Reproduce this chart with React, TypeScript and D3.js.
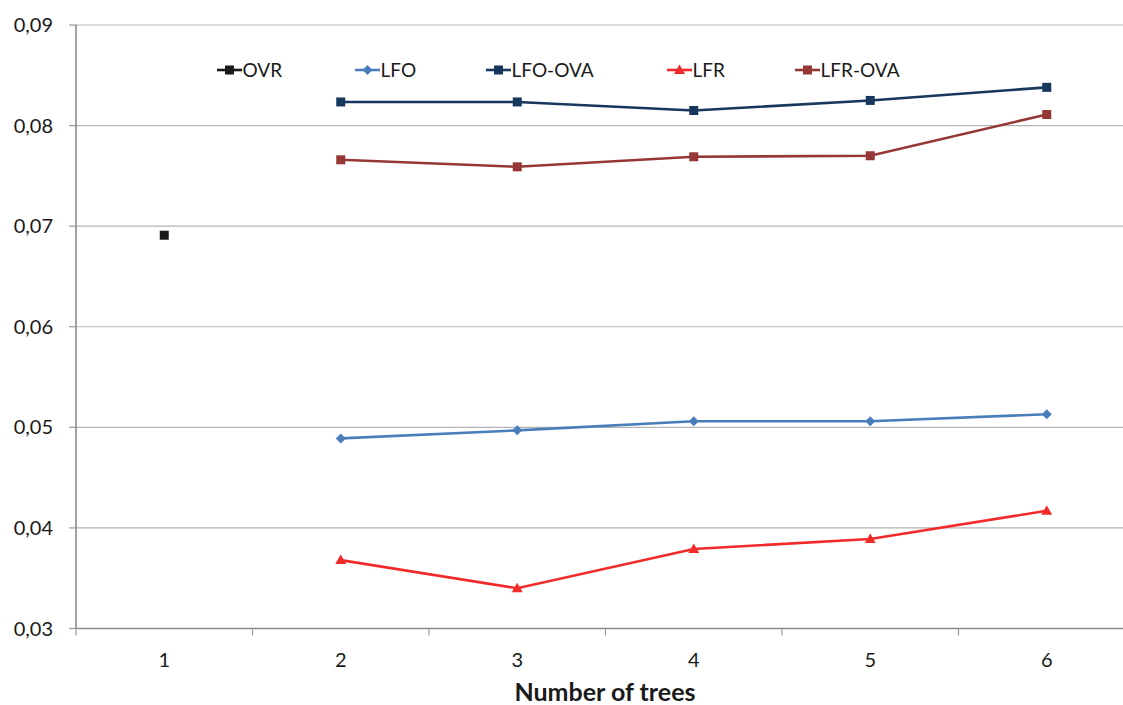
import React from "react";
import * as d3 from "d3";

const categories = [1, 2, 3, 4, 5, 6];
const yTicks = [0.03, 0.04, 0.05, 0.06, 0.07, 0.08, 0.09];

const ovr: (number | null)[] = [0.0691, null, null, null, null, null];
const lfo: (number | null)[] = [null, 0.0489, 0.0497, 0.0506, 0.0506, 0.0513];
const lfoOva: (number | null)[] = [null, 0.08235, 0.08235, 0.0815, 0.0825, 0.0838];
const lfr: (number | null)[] = [null, 0.0368, 0.034, 0.0379, 0.0389, 0.0417];
const lfrOva: (number | null)[] = [null, 0.0766, 0.0759, 0.0769, 0.077, 0.0811];

const seriesNames = ["OVR", "LFO", "LFO-OVA", "LFR", "LFR-OVA"];
const seriesColors = ["#1a1a1a", "#4a7ebb", "#17375e", "#f22a2a", "#953735"];
const seriesShapes = ["square", "diamond", "square", "triangle", "square"];
const seriesData = [ovr, lfo, lfoOva, lfr, lfrOva];
const legendX = [217, 355, 486, 667, 795];

const W = 1123;
const H = 705;
const left = 76;
const top = 25;
const bottom = 628.5;
const catW = 176.5;

const FONT = "Lato, 'Open Sans', sans-serif";

function Marker({ shape, x, y, color }: { shape: string; x: number; y: number; color: string }) {
  if (shape === "square") {
    return <rect x={x - 4.5} y={y - 4.5} width={9} height={9} fill={color} />;
  }
  if (shape === "diamond") {
    return <path d={`M${x},${y - 5}L${x + 5},${y}L${x},${y + 5}L${x - 5},${y}Z`} fill={color} />;
  }
  return <path d={`M${x},${y - 5.5}L${x + 5.5},${y + 4}L${x - 5.5},${y + 4}Z`} fill={color} />;
}

export default function App() {
  const x = d3
    .scaleBand<number>()
    .domain(categories)
    .range([left, left + catW * categories.length])
    .padding(0);
  const cx = (c: number) => (x(c) as number) + x.bandwidth() / 2;
  const y = d3.scaleLinear().domain([0.03, 0.09]).range([bottom, top]);

  const line = d3
    .line<[number, number | null]>()
    .defined((d) => d[1] !== null)
    .x((d) => cx(d[0]))
    .y((d) => y(d[1] as number));

  const fmt = (v: number) => d3.format(".2f")(v).replace(".", ",");

  return (
    <svg
      width={W}
      height={H}
      style={{ position: "absolute", left: 0, top: 0, background: "#fff" }}
      fontFamily={FONT}
    >
      {/* gridlines */}
      {yTicks.map((t) => (
        <g key={t}>
          <line x1={left} x2={W} y1={y(t)} y2={y(t)} stroke={t === 0.03 ? "#8c8c8c" : "#b4b4b4"} strokeWidth={t === 0.03 ? 1.6 : 1.2} />
          <line x1={left - 7} x2={left} y1={y(t)} y2={y(t)} stroke="#9a9a9a" strokeWidth={1.2} />
          <text x={53} y={y(t)} dy="0.35em" textAnchor="end" fontSize={20} fill="#1a1a1a">
            {fmt(t)}
          </text>
        </g>
      ))}
      {/* y axis */}
      <line x1={left} x2={left} y1={top} y2={bottom} stroke="#8c8c8c" strokeWidth={1.6} />
      {/* x ticks */}
      {categories.map((c) => (
        <line key={"t" + c} x1={x(c) as number} x2={x(c) as number} y1={bottom} y2={bottom + 7} stroke="#9a9a9a" strokeWidth={1.2} />
      ))}
      {categories.map((c) => (
        <text key={"l" + c} x={cx(c)} y={660} dy="0.35em" textAnchor="middle" fontSize={20} fill="#1a1a1a">
          {c}
        </text>
      ))}
      <text x={605} y={692} dy="0.35em" textAnchor="middle" fontSize={25} fontWeight="bold" fill="#1a1a1a">
        Number of trees
      </text>
      {/* series */}
      {seriesData.map((s, i) => {
        const pts = categories.map((c, j) => [c, s[j]] as [number, number | null]);
        return (
          <g key={seriesNames[i]}>
            <path d={line(pts) || ""} fill="none" stroke={seriesColors[i]} strokeWidth={2.6} />
            {pts
              .filter((p) => p[1] !== null)
              .map((p) => (
                <Marker key={p[0]} shape={seriesShapes[i]} x={cx(p[0])} y={y(p[1] as number)} color={seriesColors[i]} />
              ))}
          </g>
        );
      })}
      {/* legend */}
      {seriesNames.map((n, i) => (
        <g key={"lg" + n}>
          <line x1={legendX[i]} x2={legendX[i] + 25} y1={70} y2={70} stroke={seriesColors[i]} strokeWidth={2.6} />
          <Marker shape={seriesShapes[i]} x={legendX[i] + 12.5} y={70} color={seriesColors[i]} />
          <text x={legendX[i] + 25.5} y={70} dy="0.35em" fontSize={19} fill="#1a1a1a">
            {n}
          </text>
        </g>
      ))}
    </svg>
  );
}
